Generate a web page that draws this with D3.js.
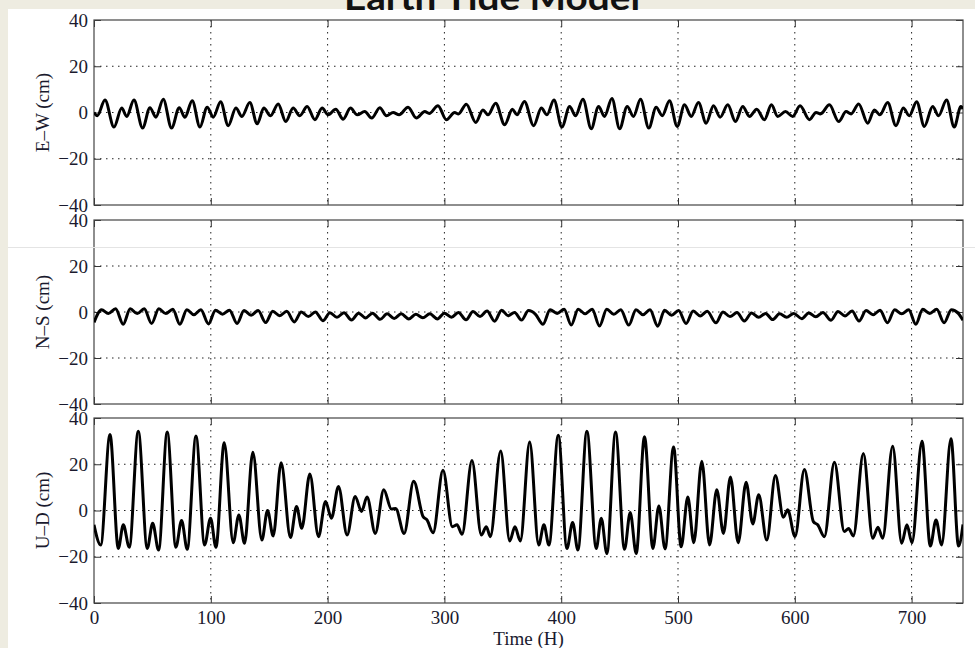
<!DOCTYPE html>
<html>
<head>
<meta charset="utf-8">
<script src="https://cdnjs.cloudflare.com/ajax/libs/d3/7.8.5/d3.min.js"></script>
<style>
    html, body { margin: 0; padding: 0; background: #eeece1; }
    svg { display: block; }
</style>
</head>
<body>
<div class="chart"></div>
<script>
// time axis (hours) and y ticks
var xTicks = [0, 100, 200, 300, 400, 500, 600, 700];
var yTicks = [-40, -20, 0, 20, 40];
var hourMax = 744;
var panelLabels = ["E\u2013W (cm)", "N\u2013S (cm)", "U\u2013D (cm)"];

// turning points: [hour, cm]
var ewSeries = [[0,0],[2.8,-1.4],[9.4,5.4],[17.1,-6.3],[23.7,1.9],[28,-1.7],[34.2,5.4],[41.6,-6.7],[47.9,2.1],[53,-2],[59.3,5.7],[66.4,-6.7],[73,2.1],[77.8,-2.1],[84.1,5.1],[90.7,-6.3],[96.9,2.3],[102.1,-2],[108.4,4.7],[114.9,-5.7],[121.5,1.9],[126.6,-1.7],[133.4,4.3],[139.7,-4.9],[145.4,1.9],[151.1,-1.4],[157.7,3.7],[164.2,-3.9],[170.5,1.9],[176.2,-1.4],[182.5,2.6],[189.1,-3.1],[195.3,1.9],[200.5,-1],[207,1.4],[213.3,-2.9],[219.6,1.9],[225.3,-1],[231.8,0.4],[237.8,-2.4],[244.7,2.1],[250.4,-1.4],[256.1,0],[261.2,-1],[268.9,2.3],[276,-2.4],[283.2,0.4],[287,-0.4],[294.5,2.9],[301.7,-3.1],[308.8,0],[312,-0.6],[318.8,3.6],[326.8,-4.3],[333,1.1],[337.3,-1],[343.9,4],[351.6,-5.3],[358.2,1.4],[362.1,-1],[368.5,4.8],[376.4,-5.7],[383,1.9],[387.8,-1],[393.8,5.4],[400.6,-6.3],[407.2,2.6],[412.3,-1.4],[418.6,5.7],[425.7,-7],[432,2.6],[437.1,-1.7],[443.4,6.1],[450,-7],[456.5,2.6],[461.9,-1.7],[467.9,5.7],[475,-6.7],[481.3,2.3],[486.5,-1.4],[492.7,5.1],[499.3,-6],[505.6,3.3],[511.3,-1.7],[517.5,4.3],[524.1,-4.6],[530.4,2.9],[536.1,-2],[542.6,3.3],[549.2,-3.9],[555.4,2.6],[561.2,-1.7],[567.4,1.4],[574,-3.1],[580,3.3],[585.4,-1.7],[592,0.4],[598.2,-1.7],[604.5,2.9],[612.5,-3.1],[618.2,0],[622,-0.6],[629.6,3.3],[637.6,-3.9],[643.9,0.4],[648.2,-0.6],[654.7,3.7],[662.4,-4.6],[668.1,1.1],[672.9,-1],[679.5,4.3],[686.6,-5.7],[692.9,1.9],[698,-1.4],[704.3,4.7],[710.9,-6],[718,2.6],[723.1,-1.4],[729.9,5.4],[736.5,-6.3],[742.2,2.6],[744,1.5]];

var nsSeries = [[0,-4.5],[6.5,1],[12.3,-0.6],[18.5,1.4],[25,-5.3],[31,1.4],[37,-0.7],[43,1.4],[49.3,-5],[55.5,1.4],[61.5,-0.7],[67.5,1.2],[73.5,-5.3],[79.5,1],[85.5,-1.2],[91.5,1],[98,-5.2],[104,0.8],[110,-1],[116,0.8],[122.5,-5],[128.5,0.6],[134.5,-1.4],[140.5,0.6],[147,-4.6],[153,0.3],[159,-1.6],[165,0.3],[171.5,-4.3],[177.5,0],[183.5,-2],[189.5,0],[196,-3.8],[202,-0.3],[208,-2.3],[214,-0.3],[220.5,-3.5],[226.5,-0.5],[232.5,-2.6],[238.5,-0.5],[245,-3.2],[251,-0.8],[257,-2.8],[263,-0.8],[269.5,-3],[275.5,-1],[281.5,-2.5],[287.5,-0.8],[294,-3],[300,-0.5],[306,-2.3],[312,-0.2],[318.5,-3.4],[324.5,0.2],[330.5,-2],[336.5,0.4],[343,-4],[349,0.8],[354.5,-1.6],[360.1,-0.2],[366,-3.5],[372,0.6],[378,-1],[384.4,-5.3],[390.5,1],[396.5,-0.6],[402.5,1.2],[408.6,-5.7],[414.5,1.2],[420.5,-0.8],[426.5,1.2],[432.8,-6.1],[439,1.2],[445,-1],[451,1],[457.9,-5.7],[464,1],[470,-1.2],[476,1],[482.7,-6.2],[488.5,0.8],[494.5,-1.4],[500.5,0.6],[506.9,-5],[513,0.4],[519,-1.7],[525,0.3],[532.5,-4.7],[538.5,0],[544.5,-2],[550.5,-0.2],[556.8,-3.9],[563,-0.4],[569,-2.3],[575,-0.6],[581,-3.3],[587,-0.8],[593,-2.3],[599,-0.6],[606,-2.9],[612,-0.4],[618,-2.1],[624,-0.2],[631,-3.6],[637,0.2],[643,-1.7],[649,0.4],[655,-3.9],[661,0.6],[667,-1.2],[673,0.8],[679.3,-4.7],[685.5,1],[691.5,-0.8],[697.5,1],[703.6,-5.3],[709.5,1.2],[715.5,-0.6],[721.5,1.2],[727.8,-4.7],[734,1],[740,-0.6],[744,-3.6]];

var udSeries = [[0,-6.2],[5.7,-14.9],[13.7,32.9],[20.8,-16.4],[25.1,-6.2],[30.2,-15.9],[37.9,34.3],[45.6,-16.4],[50.2,-5.5],[55.3,-17.1],[62.7,33.9],[70.1,-15.9],[75,-4.3],[79.8,-16.8],[87.3,32.2],[94.7,-14.9],[99.8,-3.3],[104.4,-15.9],[111.5,29.3],[119.2,-13.9],[124,-1.9],[128.9,-14.2],[136,25.2],[143.7,-12.8],[148.6,0],[153.4,-11],[160.2,20.6],[168.2,-11.7],[173.4,1.7],[177.9,-7.7],[184.8,15.8],[192.2,-11.3],[198.2,3.9],[203.3,-3.3],[209.3,10.4],[216.7,-10.6],[223.6,6.1],[229,-0.4],[233.8,5.8],[240.8,-9.9],[248.1,9],[254.6,0.6],[258.3,0.9],[265.5,-9.9],[273.7,12.6],[281.7,-2.6],[285.1,-4.1],[290.3,-9.6],[298.8,17.4],[306.8,-7],[310.8,-6.2],[315.1,-10.3],[323.6,21.6],[331.6,-10.6],[335.9,-7],[339.3,-11.3],[348.2,25.7],[355.9,-13.2],[360.4,-7],[365,-13.2],[373,29.6],[380.7,-14.9],[385.2,-6.2],[389.5,-14.9],[397.5,32.5],[404.9,-16.4],[409.8,-5.2],[414.3,-17.1],[422,34.3],[430,-16.4],[434.3,-3.3],[439.1,-18.6],[446.5,33.9],[454.2,-16.8],[459.1,-0.9],[464.2,-18.6],[471.3,31.9],[478.5,-16.4],[483.6,2],[488.9,-16.6],[496.2,27.5],[502.7,-15.7],[508.4,5.8],[513.5,-13.9],[520.4,21.3],[527,-14.9],[533.2,9],[538.9,-9.9],[544.9,14.5],[551.5,-13.9],[558.3,12.2],[564,-5.8],[569.1,6.8],[576,-12.8],[583.4,15.1],[590.2,-2.9],[593.9,0.3],[600.2,-11.3],[608.2,17.7],[615.9,-4.8],[619.6,-6.2],[625.3,-11.3],[633.9,20.9],[642.4,-9.1],[646.1,-7.8],[650.1,-11],[658.7,24.6],[666.7,-12],[671.2,-7.2],[675.2,-12],[683.8,27.8],[691.5,-14.2],[696,-6.2],[700.3,-13.9],[708.9,30],[716,-15.4],[720.9,-4.1],[725.7,-14.9],[733.7,31],[740.2,-15.4],[744,-6]];

var allSeries = [ewSeries, nsSeries, udSeries];

var width = 975, height = 648;
var left = 94, right = 963;
var panels = [
    {top: 20, bottom: 205},
    {top: 220, bottom: 404},
    {top: 418, bottom: 603}
];
var serif = "'Liberation Serif', 'Times New Roman', serif";
var textColor = "#1a1a2e";

var svg = d3.select(".chart").append("svg")
    .attr("width", width)
    .attr("height", height);

// white picture pasted on the beige slide
svg.append("rect")
    .attr("x", 8).attr("y", 9)
    .attr("width", width - 8).attr("height", height - 9)
    .attr("fill", "#ffffff");

svg.append("text")
    .attr("x", 492).attr("y", 10)
    .attr("text-anchor", "middle")
    .attr("font-family", "Lato, 'Open Sans', sans-serif")
    .attr("font-weight", "bold")
    .attr("font-size", 35)
    .attr("fill", "#111")
    .attr("textLength", 296)
    .attr("lengthAdjust", "spacingAndGlyphs")
    .text("Earth Tide Model");

var x = d3.scaleLinear().domain([0, hourMax]).range([left, right]);

var line = d3.line()
    .x(function (d) { return x(d[0]); })
    .curve(d3.curveMonotoneX);

panels.forEach(function (p, i) {
    var y = d3.scaleLinear().domain([-40, 40]).range([p.bottom, p.top]);
    var g = svg.append("g");

    g.append("clipPath").attr("id", "clip" + i)
        .append("rect")
        .attr("x", left).attr("y", p.top)
        .attr("width", right - left).attr("height", p.bottom - p.top);

    // dotted grid
    g.selectAll(".vgrid")
        .data(xTicks.filter(function (t) { return t > 0; }))
        .enter().append("line")
        .attr("x1", function (d) { return x(d); })
        .attr("x2", function (d) { return x(d); })
        .attr("y1", p.top).attr("y2", p.bottom)
        .attr("stroke", "#222").attr("stroke-width", 1)
        .attr("stroke-dasharray", "1.5,4.5");

    g.selectAll(".hgrid")
        .data([-20, 0, 20])
        .enter().append("line")
        .attr("x1", left).attr("x2", right)
        .attr("y1", function (d) { return y(d); })
        .attr("y2", function (d) { return y(d); })
        .attr("stroke", "#222").attr("stroke-width", 1)
        .attr("stroke-dasharray", "1.5,4.5");

    // inward ticks on all four sides
    g.append("g").attr("transform", "translate(" + left + ",0)")
        .call(d3.axisLeft(y).tickValues(yTicks).tickSize(-7).tickPadding(6));
    g.append("g").attr("transform", "translate(" + right + ",0)")
        .call(d3.axisRight(y).tickValues(yTicks).tickSize(-7).tickFormat(""));
    g.append("g").attr("transform", "translate(0," + p.top + ")")
        .call(d3.axisTop(x).tickValues(xTicks).tickSize(-7).tickFormat(""));
    g.append("g").attr("transform", "translate(0," + p.bottom + ")")
        .call(d3.axisBottom(x).tickValues(xTicks).tickSize(-7).tickPadding(8)
            .tickFormat(i === 2 ? d3.format("d") : ""));

    g.selectAll(".domain").remove();
    g.selectAll(".tick line").attr("stroke", "#333");
    g.selectAll(".tick text")
        .attr("font-family", serif)
        .attr("font-size", 19)
        .attr("fill", textColor);

    g.append("rect")
        .attr("x", left).attr("y", p.top)
        .attr("width", right - left).attr("height", p.bottom - p.top)
        .attr("fill", "none")
        .attr("stroke", "#444").attr("stroke-width", 1.2);

    g.append("text")
        .attr("transform", "translate(42," + y(0) + ") rotate(-90)")
        .attr("text-anchor", "middle")
        .attr("dy", "0.35em")
        .attr("font-family", serif)
        .attr("font-size", 19)
        .attr("fill", textColor)
        .text(panelLabels[i]);

    g.append("path")
        .datum(allSeries[i])
        .attr("clip-path", "url(#clip" + i + ")")
        .attr("d", line.y(function (d) { return y(d[1]); }))
        .attr("fill", "none")
        .attr("stroke", "#000")
        .attr("stroke-width", 3)
        .attr("stroke-linejoin", "round");
});

svg.append("text")
    .attr("x", (left + right) / 2).attr("y", 645)
    .attr("text-anchor", "middle")
    .attr("font-family", serif)
    .attr("font-size", 19)
    .attr("fill", textColor)
    .text("Time (H)");

// faint seam line across the slide picture
svg.append("line")
    .attr("x1", 8).attr("x2", width)
    .attr("y1", 247.5).attr("y2", 247.5)
    .attr("stroke", "#e4e4e4").attr("stroke-width", 1);
</script>
</body>
</html>
